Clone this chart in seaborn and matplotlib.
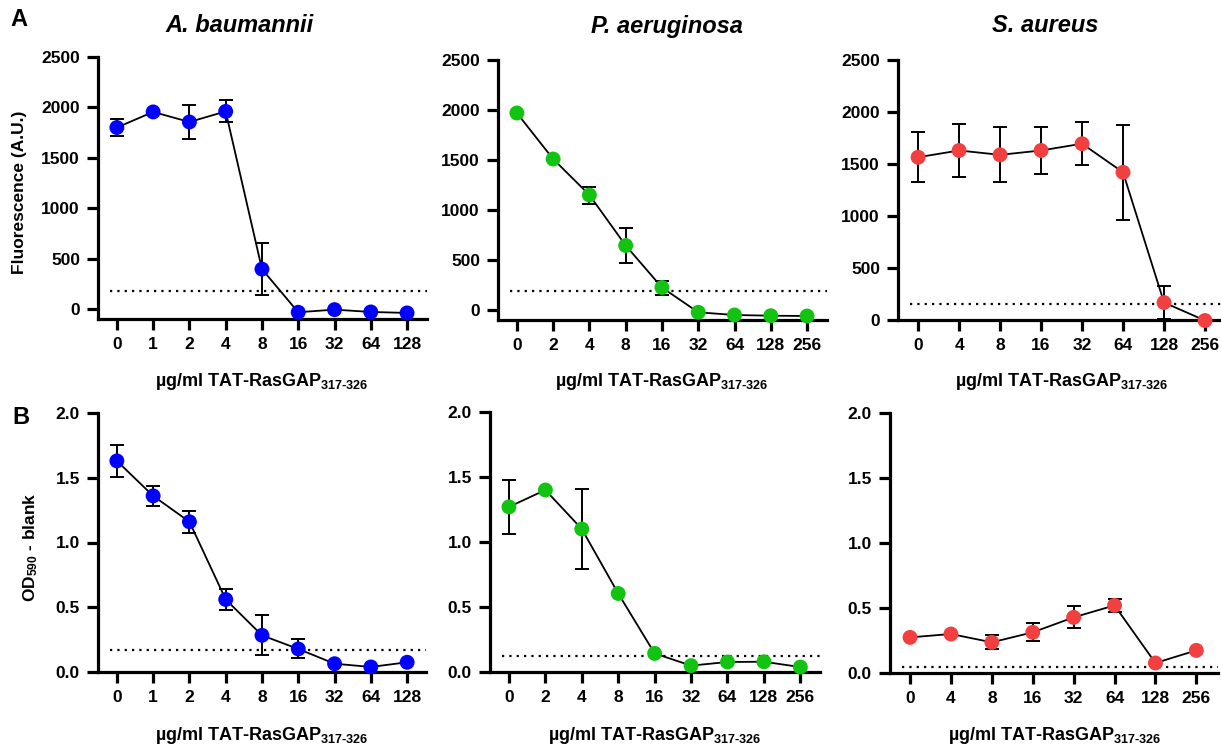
import numpy as np
import pandas as pd
import seaborn as sns
import matplotlib
matplotlib.use('Agg')
import matplotlib.pyplot as plt

# concentrations (tick labels)
ab_conc = ['0', '1', '2', '4', '8', '16', '32', '64', '128']
pa_conc = ['0', '2', '4', '8', '16', '32', '64', '128', '256']
sa_conc = ['0', '4', '8', '16', '32', '64', '128', '256']

# A: fluorescence
ab_fluo = [1800, 1955, 1855, 1960, 395, -33, -7, -30, -40]
ab_fluo_err = [80, 0, 170, 110, 255, 0, 0, 0, 0]
pa_fluo = [1970, 1510, 1150, 645, 225, -23, -50, -57, -60]
pa_fluo_err = [0, 0, 85, 175, 70, 0, 0, 0, 0]
sa_fluo = [1565, 1630, 1588, 1630, 1695, 1420, 168, -5]
sa_fluo_err = [240, 257, 265, 225, 208, 455, 157, 0]

# B: OD590 - blank
ab_od = [1.63, 1.36, 1.16, 0.56, 0.283, 0.178, 0.064, 0.039, 0.075]
ab_od_err = [0.125, 0.08, 0.085, 0.08, 0.155, 0.073, 0, 0, 0]
pa_od = [1.27, 1.40, 1.10, 0.604, 0.143, 0.049, 0.077, 0.079, 0.038]
pa_od_err = [0.205, 0, 0.31, 0, 0, 0, 0, 0, 0]
sa_od = [0.274, 0.30, 0.236, 0.313, 0.428, 0.52, 0.077, 0.174]
sa_od_err = [0, 0, 0.053, 0.07, 0.085, 0.053, 0, 0]

# detection thresholds (dotted lines)
fluo_thresh = [182, 193, 155]
od_thresh = [0.167, 0.125, 0.046]

species = ['A. baumannii', 'P. aeruginosa', 'S. aureus']
colors = ['#0000ff', '#12c312', '#f23f3f']

sns.set_theme(style='ticks')
plt.rcParams['font.family'] = ['Liberation Sans', 'DejaVu Sans']
plt.rcParams['font.weight'] = 'bold'
plt.rcParams['text.color'] = 'black'
plt.rcParams['axes.edgecolor'] = 'black'
plt.rcParams['xtick.color'] = 'black'
plt.rcParams['ytick.color'] = 'black'
plt.rcParams['mathtext.fontset'] = 'custom'
plt.rcParams['mathtext.rm'] = 'Liberation Sans:bold'
plt.rcParams['mathtext.it'] = 'Liberation Sans:bold'
plt.rcParams['mathtext.bf'] = 'Liberation Sans:bold'

W, H = 1221, 746
fig = plt.figure(figsize=(W / 100, H / 100), dpi=100)


def px_axes(left, right, top, bottom):
    return fig.add_axes([left / W, 1 - bottom / H, (right - left) / W, (bottom - top) / H])


def draw_panel(ax, conc, vals, errs, color, thresh, ylim, yticks, xlim):
    df = pd.DataFrame({'pos': np.arange(len(conc)), 'val': vals, 'err': errs})
    e = df[df['err'] > 0]
    ax.errorbar(e['pos'], e['val'], yerr=e['err'], fmt='none', ecolor='black',
                elinewidth=1.4, capsize=5, capthick=1.4, zorder=2, clip_on=False)
    sns.lineplot(data=df, x='pos', y='val', color='black', linewidth=1.3,
                 ax=ax, zorder=2)
    ax.hlines(thresh, -0.2, xlim[1], colors='black', linewidth=1.6,
              linestyles=(0, (1, 2.3)), zorder=1.5)
    sns.scatterplot(data=df, x='pos', y='val', color=color, s=115,
                    edgecolor='none', ax=ax, zorder=4)
    ax.collections[-1].set_clip_on(False)
    ax.set_xlim(*xlim)
    ax.set_ylim(*ylim)
    ax.set_xticks(df['pos'])
    ax.set_xticklabels(conc)
    ax.set_yticks(yticks)
    ax.set_xlabel('')
    ax.set_ylabel('')
    sns.despine(ax=ax)
    for s in ['left', 'bottom']:
        ax.spines[s].set_linewidth(2.3)
        ax.spines[s].set_color('black')
    ax.tick_params(width=2.3, length=8, labelsize=12.5, pad=5, colors='black')
    for lab in ax.get_xticklabels() + ax.get_yticklabels():
        lab.set_fontweight('bold')


# row A
fluo_ticks = [0, 500, 1000, 1500, 2000, 2500]
axA1 = px_axes(98, 427, 57, 319)
draw_panel(axA1, ab_conc, ab_fluo, ab_fluo_err, colors[0], fluo_thresh[0],
           (-100, 2500), fluo_ticks, (-0.52, 8.55))
axA2 = px_axes(498, 827, 60, 320)
draw_panel(axA2, pa_conc, pa_fluo, pa_fluo_err, colors[1], fluo_thresh[1],
           (-100, 2500), fluo_ticks, (-0.52, 8.55))
axA3 = px_axes(898, 1221, 60, 320)
draw_panel(axA3, sa_conc, sa_fluo, sa_fluo_err, colors[2], fluo_thresh[2],
           (0, 2500), fluo_ticks, (-0.49, 7.39))

# row B
od_ticks = [0.0, 0.5, 1.0, 1.5, 2.0]
axB1 = px_axes(98, 426, 413, 672)
draw_panel(axB1, ab_conc, ab_od, ab_od_err, colors[0], od_thresh[0],
           (0, 2), od_ticks, (-0.52, 8.52))
axB2 = px_axes(490, 820, 412, 672)
draw_panel(axB2, pa_conc, pa_od, pa_od_err, colors[1], od_thresh[1],
           (0, 2), od_ticks, (-0.52, 8.54))
axB3 = px_axes(890, 1218, 413, 673)
draw_panel(axB3, sa_conc, sa_od, sa_od_err, colors[2], od_thresh[2],
           (0, 2), od_ticks, (-0.49, 7.53))
for ax in [axB1, axB2, axB3]:
    ax.set_yticklabels([f'{t:.1f}' for t in od_ticks])


def ftext(x, y, s, **kw):
    fig.text(x / W, 1 - y / H, s, ha='center', va='center', color='black', **kw)


# titles
for x, name in zip([240, 667, 1045], species):
    ftext(x, 26, name, fontsize=17, fontweight='bold', fontstyle='italic')

# x labels
xlab = r'µg/ml TAT-RasGAP$_{\text{317-326}}$'
for x in [262, 662, 1062]:
    ftext(x, 382, xlab, fontsize=13, fontweight='bold')
for x in [262, 655, 1055]:
    ftext(x, 736, xlab, fontsize=13, fontweight='bold')

# y labels
ftext(20, 192, 'Fluorescence (A.U.)', fontsize=12.5, fontweight='bold', rotation=90)
ftext(31, 547, r'OD$_{\text{590}}$ - blank', fontsize=12.5, fontweight='bold', rotation=90)

# panel letters
ftext(19, 19, 'A', fontsize=17, fontweight='bold')
ftext(21, 417, 'B', fontsize=17, fontweight='bold')

fig.savefig('out.png', dpi=100)
